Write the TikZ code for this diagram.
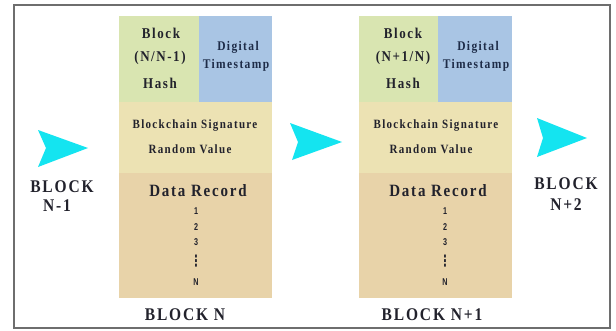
\documentclass[tikz,border=0pt]{standalone}
\usepackage{fontspec}
\setmainfont{Liberation Serif}
\newfontfamily\spaced[LetterSpace=12]{Liberation Serif}
\newfontfamily\numfont{Liberation Sans}
\newfontfamily\symfont{DejaVu Sans}
\definecolor{hashgreen}{HTML}{D9E5B1}
\definecolor{stampblue}{HTML}{A9C5E4}
\definecolor{signbeige}{HTML}{ECE2B3}
\definecolor{datatan}{HTML}{E8D3A9}
\definecolor{flowcyan}{HTML}{14E4F0}
\definecolor{ink}{HTML}{22222C}
\definecolor{navyink}{HTML}{1E2C48}
\definecolor{framegray}{HTML}{6E6E6E}
\newcommand{\tall}[1]{\scalebox{1}[1.15]{#1}}
\newcommand{\slim}[1]{\scalebox{0.8}[1.1]{#1}}
\newcommand{\fs}[1]{\fontsize{#1}{#1}\selectfont}
% vertical ellipsis for the elided records
\newcommand{\stackdots}{{\symfont\bfseries\fs{13}\scalebox{0.8}[1.2]{⋮}}}
\begin{document}
\begin{tikzpicture}[x=1pt,y=-1pt,
  part/.style={inner sep=0, outer sep=0, draw=none, anchor=north west},
  lbl/.style={inner sep=0, text=ink, font=\spaced\bfseries},
  num/.style={inner sep=0, text=ink, font=\numfont\bfseries\fs{9}},
  flow/.style={fill=flowcyan, draw=none}]
\useasboundingbox (0,0) rectangle (616,330);
\fill[white] (0,0) rectangle (616,330);
\draw[framegray, line width=1.5pt] (14,5) rectangle (610,328);

% ---- Block N ----
\node[part, fill=hashgreen, minimum width=80pt, minimum height=86pt] (nhash) at (119,16) {};
\node[part, fill=stampblue, minimum width=73pt, minimum height=86pt] (nstamp) at (199,16) {};
\node[part, fill=signbeige, minimum width=153pt, minimum height=71pt] (nsign) at (119,102) {};
\node[part, fill=datatan, minimum width=153pt, minimum height=125pt] (ndata) at (119,173) {};

\node[lbl, font=\spaced\bfseries\fs{13}] (nh1) at (161,33) {\tall{Block}};
\node[lbl, font=\spaced\bfseries\fs{13}] (nh2) at (160,58) {\tall{(N/N-1)}};
\node[lbl, font=\spaced\bfseries\fs{13}] (nh3) at (160,83) {\tall{Hash}};
\node[lbl, text=navyink, font=\spaced\bfseries\fs{11.5}] (ns1) at (238,47) {\tall{Digital}};
\node[lbl, text=navyink, font=\spaced\bfseries\fs{11.5}] (ns2) at (236,65) {\tall{Timestamp}};
\node[lbl, font=\spaced\bfseries\fs{11}] (ng1) at (195,126) {\tall{Blockchain Signature}};
\node[lbl, font=\spaced\bfseries\fs{11}] (ng2) at (190,149) {\tall{Random Value}};
\node[lbl, font=\spaced\bfseries\fs{15}] (nd0) at (198,191) {\tall{Data Record}};
\node[num] (nd1) at (196,211) {\slim{1}};
\node[num] (nd2) at (196,227) {\slim{2}};
\node[num] (nd3) at (196,242) {\slim{3}};
\node[num] (ndd) at (196,261) {\stackdots};
\node[num] (ndn) at (196,282) {\slim{N}};
\node[lbl, font=\spaced\bfseries\fs{15.5}] (nname) at (185,315) {\tall{BLOCK N}};

% ---- Block N+1 ----
\node[part, fill=hashgreen, minimum width=79pt, minimum height=86pt] (mhash) at (359,16) {};
\node[part, fill=stampblue, minimum width=74pt, minimum height=86pt] (mstamp) at (438,16) {};
\node[part, fill=signbeige, minimum width=153pt, minimum height=71pt] (msign) at (359,102) {};
\node[part, fill=datatan, minimum width=153pt, minimum height=125pt] (mdata) at (359,173) {};

\node[lbl, font=\spaced\bfseries\fs{13}] (mh1) at (403,33) {\tall{Block}};
\node[lbl, font=\spaced\bfseries\fs{13}] (mh2) at (403,58) {\tall{(N+1/N)}};
\node[lbl, font=\spaced\bfseries\fs{13}] (mh3) at (403,83) {\tall{Hash}};
\node[lbl, text=navyink, font=\spaced\bfseries\fs{11.5}] (ms1) at (478,47) {\tall{Digital}};
\node[lbl, text=navyink, font=\spaced\bfseries\fs{11.5}] (ms2) at (476,65) {\tall{Timestamp}};
\node[lbl, font=\spaced\bfseries\fs{11}] (mg1) at (436,126) {\tall{Blockchain Signature}};
\node[lbl, font=\spaced\bfseries\fs{11}] (mg2) at (431,149) {\tall{Random Value}};
\node[lbl, font=\spaced\bfseries\fs{15}] (md0) at (438,191) {\tall{Data Record}};
\node[num] (md1) at (445,211) {\slim{1}};
\node[num] (md2) at (445,227) {\slim{2}};
\node[num] (md3) at (445,242) {\slim{3}};
\node[num] (mdd) at (445,261) {\stackdots};
\node[num] (mdn) at (445,282) {\slim{N}};
\node[lbl, font=\spaced\bfseries\fs{15.5}] (mname) at (432,315) {\tall{BLOCK N+1}};

% ---- neighbouring blocks ----
\node[lbl, font=\spaced\bfseries\fs{15.5}] (pname1) at (62,187) {\tall{BLOCK}};
\node[lbl, font=\spaced\bfseries\fs{15.5}] (pname2) at (57,206) {\tall{N-1}};
\node[lbl, font=\spaced\bfseries\fs{15.5}] (qname1) at (566,184) {\tall{BLOCK}};
\node[lbl, font=\spaced\bfseries\fs{15.5}] (qname2) at (566,205) {\tall{N+2}};

% ---- chain arrows ----
\fill[flow] (38,130) -- (88,148) -- (38,167) -- (46,148) -- cycle;
\fill[flow] (290,123) -- (342,142) -- (292,160) -- (298,142) -- cycle;
\fill[flow] (537,118) -- (587,138) -- (537,157) -- (543,138) -- cycle;
\end{tikzpicture}
\end{document}
